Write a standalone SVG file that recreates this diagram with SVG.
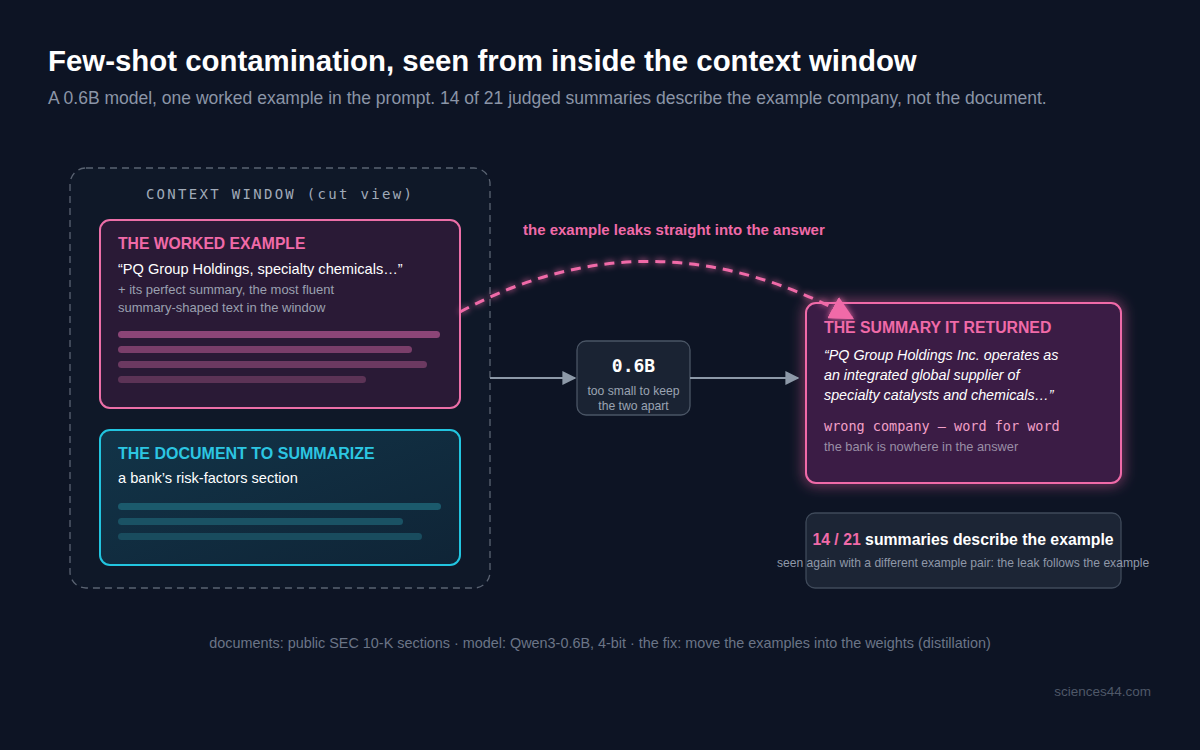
<svg xmlns="http://www.w3.org/2000/svg" width="1200" height="750" viewBox="0 0 1200 750">
<defs>
<style>
.sans{font-family:"Liberation Sans",Arial,sans-serif}
.mono{font-family:"DejaVu Sans Mono","Liberation Mono",monospace}
.ttl{font-weight:bold}
</style>
<filter id="glow" x="-20%" y="-20%" width="140%" height="140%">
<feGaussianBlur stdDeviation="7" result="b"/>
<feMerge><feMergeNode in="b"/><feMergeNode in="SourceGraphic"/></feMerge>
</filter>
<filter id="softglow" x="-10%" y="-30%" width="120%" height="160%">
<feGaussianBlur stdDeviation="3" result="b"/>
<feMerge><feMergeNode in="b"/><feMergeNode in="SourceGraphic"/></feMerge>
</filter>
<marker id="grayArrow" viewBox="0 0 10 10" refX="9" refY="5" markerWidth="14" markerHeight="14" markerUnits="userSpaceOnUse" orient="auto">
<path d="M0,0 L10,5 L0,10 z" fill="#8d99a8"/>
</marker>
<marker id="pinkArrow" viewBox="0 0 10 10" refX="9" refY="5" markerWidth="24" markerHeight="24" markerUnits="userSpaceOnUse" orient="auto">
<path d="M0,0 L10,5 L0,10 z" fill="#f06aa8"/>
</marker>
<linearGradient id="docfill" x1="0" y1="0" x2="1" y2="1">
<stop offset="0" stop-color="#123448"/><stop offset="1" stop-color="#0f2436"/>
</linearGradient>
</defs>
<rect width="1200" height="750" fill="#0d1424"/>

<text x="48" y="71" class="sans" font-size="29.4" font-weight="bold" fill="#ffffff">Few-shot contamination, seen from inside the context window</text>
<text x="48" y="104" class="sans" font-size="17.5" fill="#8b95a7">A 0.6B model, one worked example in the prompt. 14 of 21 judged summaries describe the example company, not the document.</text>

<g id="context-window">
<rect x="70" y="168" width="420" height="420" rx="16" fill="#0f1828" stroke="#5a6372" stroke-width="1.3" stroke-dasharray="7 5"/>
<text x="280" y="199" class="mono" font-size="14" fill="#a0aab8" text-anchor="middle" letter-spacing="2.3">CONTEXT WINDOW (cut view)</text>
</g>

<g id="worked-example">
<rect x="100" y="220" width="360" height="188" rx="10" fill="#2a1a36" stroke="#ec6fa8" stroke-width="2"/>
<text x="118" y="249" class="sans ttl" font-size="15.7" fill="#f06aa8">THE WORKED EXAMPLE</text>
<text x="118" y="274" class="sans" font-size="14.6" fill="#ffffff">“PQ Group Holdings, specialty chemicals…”</text>
<text x="118" y="294" class="sans" font-size="13" fill="#9aa0b0">+ its perfect summary, the most fluent</text>
<text x="118" y="312" class="sans" font-size="13" fill="#9aa0b0">summary-shaped text in the window</text>
<rect x="118" y="331" width="322" height="7" rx="3.5" fill="#8c4577"/>
<rect x="118" y="346" width="294" height="7" rx="3.5" fill="#7a3e6a"/>
<rect x="118" y="361" width="309" height="7" rx="3.5" fill="#6c3961"/>
<rect x="118" y="376" width="248" height="7" rx="3.5" fill="#5c3356"/>
</g>

<g id="document">
<rect x="100" y="430" width="360" height="135" rx="10" fill="url(#docfill)" stroke="#22c5e0" stroke-width="2"/>
<text x="118" y="459" class="sans ttl" font-size="16" fill="#2cc6e2">THE DOCUMENT TO SUMMARIZE</text>
<text x="118" y="483" class="sans" font-size="14.6" fill="#ffffff">a bank’s risk-factors section</text>
<rect x="118" y="503" width="323" height="7" rx="3.5" fill="#1b5a6c"/>
<rect x="118" y="518" width="285" height="7" rx="3.5" fill="#1a5264"/>
<rect x="118" y="533" width="304" height="7" rx="3.5" fill="#194c5e"/>
</g>

<g id="model">
<rect x="577" y="341" width="113" height="74" rx="9" fill="#1a2333" stroke="#4a5565" stroke-width="1.3"/>
<text x="633.5" y="372" class="mono" font-size="18" font-weight="bold" fill="#ffffff" text-anchor="middle">0.6B</text>
<text x="633.5" y="395" class="sans" font-size="12.2" fill="#9aa3b2" text-anchor="middle">too small to keep</text>
<text x="633.5" y="410" class="sans" font-size="12.2" fill="#9aa3b2" text-anchor="middle">the two apart</text>
</g>

<g id="summary">
<rect x="806" y="303" width="315" height="180" rx="10" fill="#3a1f44" stroke="#f06aa8" stroke-width="2" filter="url(#glow)"/>
<text x="824" y="333" class="sans ttl" font-size="15.8" fill="#f06aa8">THE SUMMARY IT RETURNED</text>
<text class="sans" font-size="14.3" font-style="italic" fill="#ffffff">
<tspan x="824" y="360">“PQ Group Holdings Inc. operates as</tspan>
<tspan x="824" y="380">an integrated global supplier of</tspan>
<tspan x="824" y="400">specialty catalysts and chemicals…”</tspan>
</text>
<text x="824" y="431" class="mono" font-size="13.5" fill="#f2a0c8">wrong company — word for word</text>
<text x="824" y="451" class="sans" font-size="12.8" fill="#9a8fa6">the bank is nowhere in the answer</text>
</g>

<g id="stats">
<rect x="806" y="513" width="315" height="75" rx="9" fill="#1c2535" stroke="#3f4a5a" stroke-width="1.3"/>
<text x="963" y="545" class="sans" font-size="15.8" font-weight="bold" fill="#ffffff" text-anchor="middle"><tspan fill="#f06aa8">14 / 21</tspan> summaries describe the example</text>
<text x="963" y="567" class="sans" font-size="12.1" fill="#8f98a8" text-anchor="middle">seen again with a different example pair: the leak follows the example</text>
</g>

<g id="connectors">
<line x1="490" y1="378" x2="575" y2="378" stroke="#8d99a8" stroke-width="2" marker-end="url(#grayArrow)"/>
<line x1="690" y1="378" x2="798" y2="378" stroke="#8d99a8" stroke-width="2" marker-end="url(#grayArrow)"/>
<path d="M460 312 Q652 208 852 318" fill="none" stroke="#f06aa8" stroke-width="3" stroke-dasharray="10 7" marker-end="url(#pinkArrow)" filter="url(#softglow)"/>
<text x="523" y="235" class="sans" font-size="15" font-weight="bold" fill="#f06aa8">the example leaks straight into the answer</text>
</g>

<text x="600" y="648" class="sans" font-size="14.4" fill="#6b7587" text-anchor="middle">documents: public SEC 10-K sections · model: Qwen3-0.6B, 4-bit · the fix: move the examples into the weights (distillation)</text>
<text x="1151" y="696" class="sans" font-size="13.5" fill="#4f5868" text-anchor="end">sciences44.com</text>
</svg>
